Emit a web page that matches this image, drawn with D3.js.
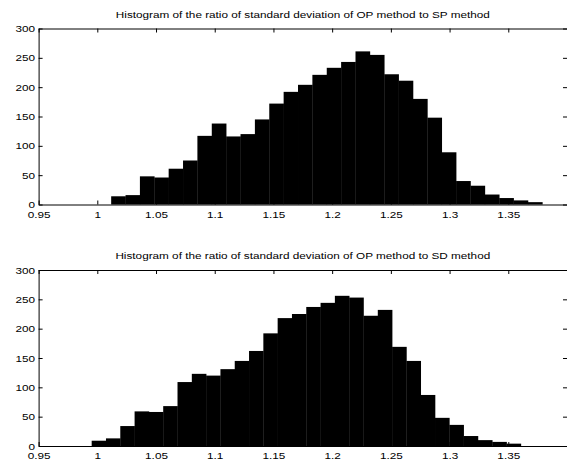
<!DOCTYPE html>
<html>
<head>
<meta charset="utf-8">
<script src="https://cdn.jsdelivr.net/npm/d3@7"></script>
<style>
  html, body { margin: 0; padding: 0; background: #fff; }
  svg { display: block; }
  text { font-family: "Liberation Sans", Arial, Helvetica, sans-serif; fill: #000; }
</style>
</head>
<body>
<svg id="chart" width="567" height="459"></svg>
<script>
// ---- data ----
const titles = [
  "Histogram of the ratio of standard deviation of OP method to SP method",
  "Histogram of the ratio of standard deviation of OP method to SD method"
];
const xTicks = [0.95, 1, 1.05, 1.1, 1.15, 1.2, 1.25, 1.3, 1.35];
const yTicks = [0, 50, 100, 150, 200, 250, 300];
const xDomain = [0.95, 1.4];
const yDomain = [0, 300];

// histogram 1 (OP / SP): 30 bins from first to last edge
const spRange = [1.0118, 1.3790];
const spCounts = [14, 16, 48, 46, 61, 75, 117, 138, 116, 120, 145, 172, 192, 204,
                  221, 233, 243, 261, 255, 222, 211, 180, 148, 89, 40, 32, 17, 11, 7, 4];
// histogram 2 (OP / SD)
const sdRange = [0.9952, 1.3607];
const sdCounts = [9, 13, 34, 59, 58, 68, 109, 123, 120, 131, 145, 162, 192, 218,
                  225, 237, 244, 256, 253, 222, 232, 169, 145, 87, 48, 36, 17, 10, 7, 4];

// ---- layout ----
const svg = d3.select("#chart");
const left = 38.6, right = 567;
const FS = 9.4, SX = 1.25;   // font size and horizontal stretch (MATLAB Helvetica look)
const panels = [
  { top: 28.5, bottom: 204.5, title: titles[0], range: spRange, counts: spCounts },
  { top: 270, bottom: 446, title: titles[1], range: sdRange, counts: sdCounts }
];

const x = d3.scaleLinear().domain(xDomain).range([left, right]);
const fmt = d => String(d);

panels.forEach(p => {
  const y = d3.scaleLinear().domain(yDomain).range([p.bottom, p.top]);
  const g = svg.append("g");

  // bars
  const n = p.counts.length;
  const w = (p.range[1] - p.range[0]) / n;
  const bins = p.counts.map((c, i) => ({ x0: p.range[0] + i * w, x1: p.range[0] + (i + 1) * w, c }));
  g.append("g").selectAll("rect").data(bins).join("rect")
    .attr("x", d => x(d.x0))
    .attr("width", d => x(d.x1) - x(d.x0) + 0.3)
    .attr("y", d => y(d.c))
    .attr("height", d => y(0) - y(d.c))
    .attr("fill", "#000");

  // axes (MATLAB style, inward ticks)
  const axB = d3.axisBottom(x).tickValues(xTicks).tickSizeInner(-4).tickSizeOuter(0).tickPadding(6.5).tickFormat(fmt);
  const axT = d3.axisTop(x).tickValues(xTicks).tickSizeInner(-4).tickSizeOuter(0).tickFormat("");
  const axL = d3.axisLeft(y).tickValues(yTicks).tickSizeInner(-4).tickSizeOuter(0).tickFormat(fmt);
  const axR = d3.axisRight(y).tickValues(yTicks).tickSizeInner(-4).tickSizeOuter(0).tickFormat("");

  const styleAxis = sel => {
    sel.attr("font-family", null).attr("font-size", null);
    sel.select(".domain").attr("stroke", "#000").attr("stroke-width", 1);
    sel.selectAll(".tick line").attr("stroke", "#000").attr("stroke-width", 1);
    sel.selectAll(".tick text").attr("font-size", FS);
  };

  const gB = g.append("g").attr("transform", `translate(0,${p.bottom})`).call(axB).call(styleAxis);
  gB.selectAll(".tick text").attr("transform", `scale(${SX},1)`);
  g.append("g").attr("transform", `translate(0,${p.top})`).call(axT).call(styleAxis);
  const gL = g.append("g").attr("transform", `translate(${left},0)`).call(axL).call(styleAxis);
  gL.selectAll(".tick text").attr("x", 0).attr("transform", `translate(-3.5,0) scale(${SX},1)`);
  g.append("g").attr("transform", `translate(${right},0)`).call(axR).call(styleAxis);

  // title
  g.append("text")
    .attr("transform", `translate(${(left + right) / 2},${p.top - 10.8}) scale(${SX},1)`)
    .attr("text-anchor", "middle")
    .attr("font-size", FS)
    .text(p.title);
});
</script>
</body>
</html>
